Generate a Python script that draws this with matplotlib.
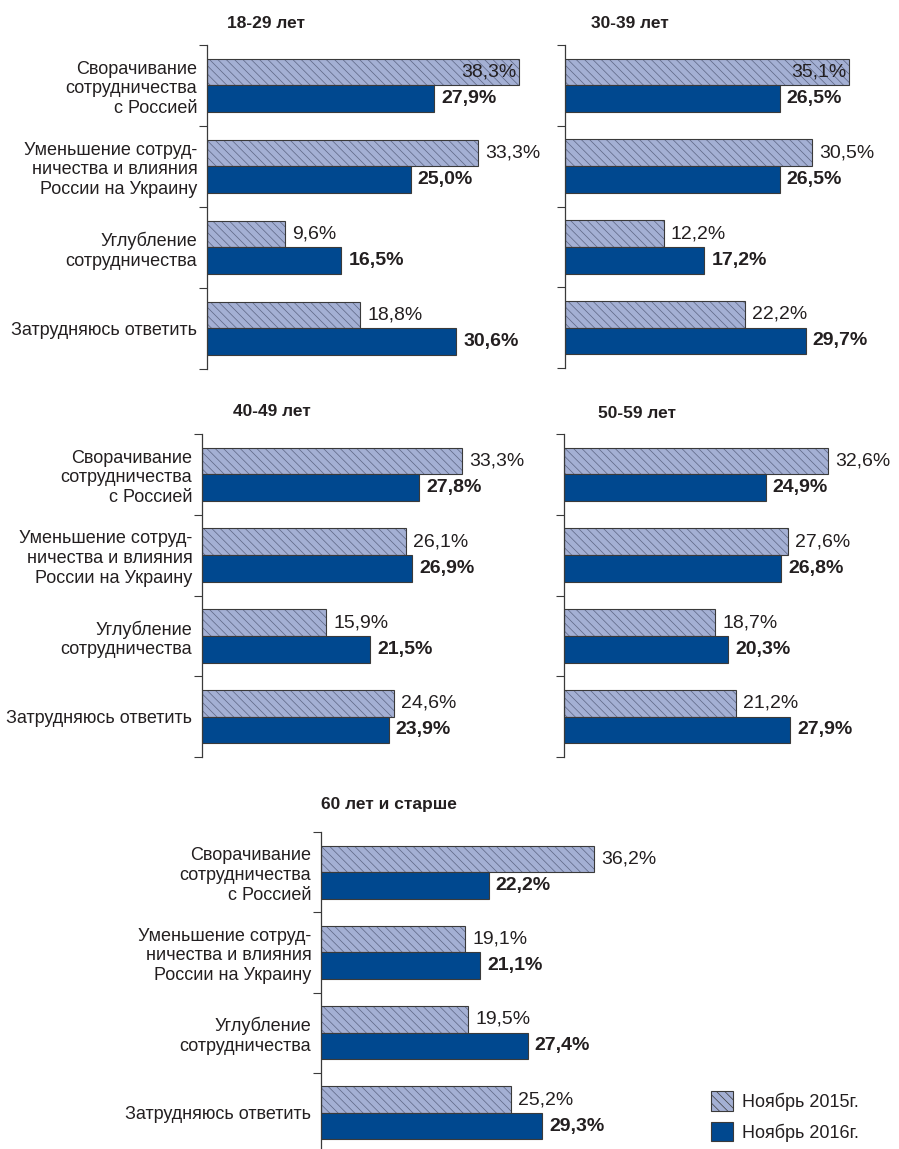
import numpy as np
import matplotlib
matplotlib.use('Agg')
import matplotlib.pyplot as plt
from matplotlib.patches import Patch

# данные: доля ответов по возрастным группам, %
groups = ['18-29 лет', '30-39 лет', '40-49 лет', '50-59 лет', '60 лет и старше']
categories = ['Сворачивание\nсотрудничества\nс Россией',
              'Уменьшение сотруд-\nничества и влияния\nРоссии на Украину',
              'Углубление\nсотрудничества',
              'Затрудняюсь ответить']
series = ['Ноябрь 2015г.', 'Ноябрь 2016г.']
nov2015 = [[38.3, 33.3, 9.6, 18.8],
           [35.1, 30.5, 12.2, 22.2],
           [33.3, 26.1, 15.9, 24.6],
           [32.6, 27.6, 18.7, 21.2],
           [36.2, 19.1, 19.5, 25.2]]
nov2016 = [[27.9, 25.0, 16.5, 30.6],
           [26.5, 26.5, 17.2, 29.7],
           [27.8, 26.9, 21.5, 23.9],
           [24.9, 26.8, 20.3, 27.9],
           [22.2, 21.1, 27.4, 29.3]]

plt.rcParams['font.family'] = ['Liberation Sans', 'DejaVu Sans']
plt.rcParams['hatch.linewidth'] = 0.5

W, H = 899, 1149
fig = plt.figure(figsize=(W / 100, H / 100), dpi=100)

# рамки панелей в пикселях: left, right, top, bottom
boxes = [(207, 555, 45, 369), (565, 895, 45, 368),
         (202, 555, 434, 757), (564, 895, 434, 757),
         (321, 680, 832, 1153)]
px_per_pct = [8.15, 8.1, 7.82, 8.1, 7.55]
title_xy = [(227, 23), (591, 23), (233, 411), (598, 413), (321, 805)]
show_labels = [True, False, True, False, True]

c15 = '#a4b0d4'
c16 = '#00488f'
hatch_c = '#5c6482'
edge = '#3a3a3a'
txt = '#231f20'
HATCH = '\\\\\\\\'

def fmt(v):
    return f'{v:.1f}%'.replace('.', ',')

for k in range(5):
    l, r, t, b = boxes[k]
    ax = fig.add_axes([l / W, 1 - b / H, (r - l) / W, (b - t) / H])
    y = np.arange(len(categories))
    ax.barh(y - 0.165, nov2015[k], height=0.33, color=c15, edgecolor=hatch_c,
            hatch=HATCH, lw=0)
    ax.barh(y - 0.165, nov2015[k], height=0.33, fill=False, edgecolor=edge, lw=0.8)
    ax.barh(y + 0.165, nov2016[k], height=0.33, color=c16, edgecolor=edge, lw=0.8)
    ax.set_xlim(0, (r - l) / px_per_pct[k])
    ax.set_ylim(3.5, -0.5)

    for i in range(len(categories)):
        v = nov2015[k][i]
        if v * px_per_pct[k] + 55 > (r - l):
            ax.annotate(fmt(v), (v, i - 0.165), xytext=(-2, 0), textcoords='offset points',
                        ha='right', va='center', fontsize=14, color=txt)
        else:
            ax.annotate(fmt(v), (v, i - 0.165), xytext=(5, 0), textcoords='offset points',
                        ha='left', va='center', fontsize=14, color=txt)
        v = nov2016[k][i]
        ax.annotate(fmt(v), (v, i + 0.165), xytext=(5, 0), textcoords='offset points',
                    ha='left', va='center', fontsize=14, fontweight='bold', color=txt)

    ax.set_yticks([-0.5, 0.5, 1.5, 2.5, 3.5])
    ax.set_yticklabels([])
    ax.tick_params(axis='y', which='major', length=6, width=0.8, color=edge, direction='out')
    if show_labels[k]:
        ax.set_yticks(y, categories, minor=True)
    else:
        ax.set_yticks(y, minor=True)
        ax.set_yticklabels([], minor=True)
    ax.tick_params(axis='y', which='minor', length=0, pad=7, labelsize=13, labelcolor=txt)
    ax.xaxis.set_visible(False)
    for s in ['top', 'right', 'bottom']:
        ax.spines[s].set_visible(False)
    ax.spines['left'].set_color(edge)
    ax.spines['left'].set_linewidth(0.9)

    tx, ty = title_xy[k]
    fig.text(tx / W, 1 - ty / H, groups[k], ha='left', va='center',
             fontsize=12.5, fontweight='bold', color=txt)

handles = [Patch(facecolor=c15, edgecolor=edge, hatch=HATCH, lw=0.8),
           Patch(facecolor=c16, edgecolor=edge, lw=0.8)]
fig.legend(handles, series, loc='upper left', bbox_to_anchor=(711 / W, 1 - 1091 / H),
           frameon=False, fontsize=13, handlelength=1.2, handleheight=1.3,
           handletextpad=0.5, labelspacing=0.6, borderpad=0, borderaxespad=0,
           labelcolor=txt)

fig.savefig('out.png', dpi=100)
